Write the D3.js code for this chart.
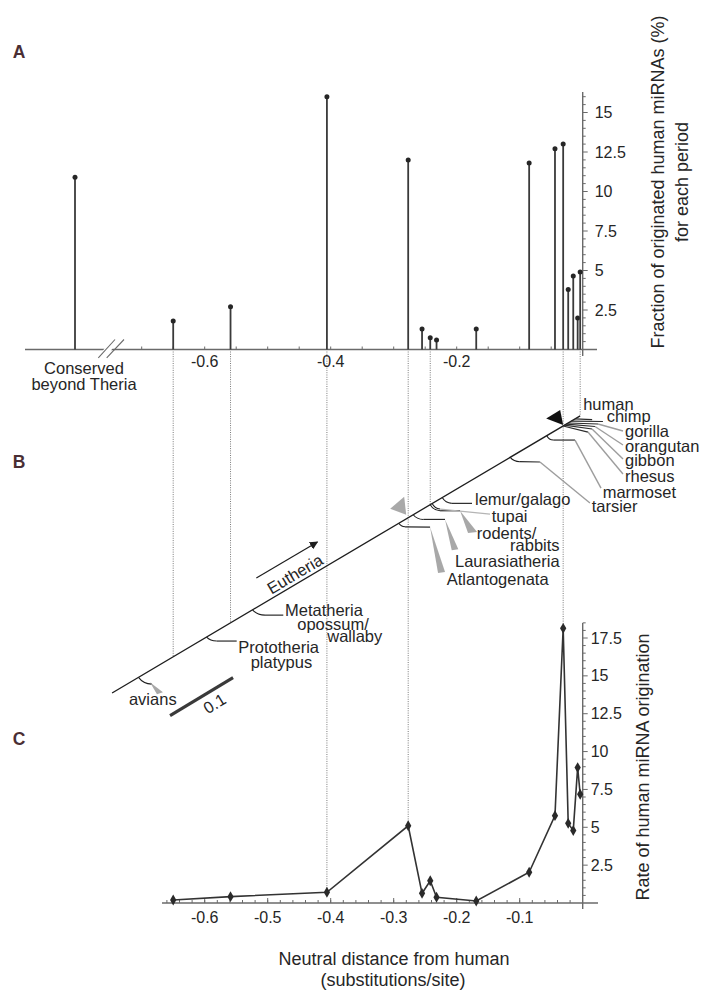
<!DOCTYPE html>
<html><head><meta charset="utf-8">
<script src="https://cdn.jsdelivr.net/npm/d3@7"></script>
<style>
html,body{margin:0;padding:0;background:#fff;}
svg{display:block;font-family:"Liberation Sans",Arial,Helvetica,sans-serif;}
</style></head><body>
<svg id="fig" width="702" height="992"></svg>
<script>
// Neutral distance from human (substitutions/site) of each origination period
const periodDistance = [-0.650, -0.559, -0.406, -0.277, -0.255, -0.242, -0.232, -0.169, -0.085, -0.044, -0.031, -0.023, -0.015, -0.008, -0.004];
// A: fraction (%) of human miRNAs originated in each period
const originFraction = [1.8, 2.7, 16.0, 12.0, 1.3, 0.75, 0.6, 1.3, 11.8, 12.7, 13.0, 3.8, 4.65, 2.0, 4.9];
const conservedLabel = ["Conserved", "beyond Theria"];
const conservedFraction = 10.9;
// C: rate of human miRNA origination in each period
const originRate = [0.2, 0.42, 0.71, 5.1, 0.64, 1.47, 0.38, 0.13, 2.03, 5.77, 18.14, 5.26, 4.78, 8.94, 7.18];

// tick values and labels
const fracTicks = [2.5, 5, 7.5, 10, 12.5, 15];
const fracTickLabels = ["2.5", "5", "7.5", "10", "12.5", "15"];
const rateTicks = [2.5, 5, 7.5, 10, 12.5, 15, 17.5];
const rateTickLabels = ["2.5", "5", "7.5", "10", "12.5", "15", "17.5"];
const distTicksA = [-0.6, -0.4, -0.2];
const distTickLabelsA = ["-0.6", "-0.4", "-0.2"];
const distTicksC = [-0.6, -0.5, -0.4, -0.3, -0.2, -0.1];
const distTickLabelsC = ["-0.6", "-0.5", "-0.4", "-0.3", "-0.2", "-0.1"];

// B: clades branching off the human lineage and their divergence distance
const cladeNames = ["avians", "Prototheria", "Metatheria", "Atlantogenata", "Laurasiatheria", "rodents/rabbits",
  "tupai", "lemur/galago", "tarsier", "marmoset", "rhesus", "gibbon", "orangutan", "gorilla", "chimp", "human"];
const cladeDistance = [-0.705, -0.597, -0.524, -0.292, -0.269, -0.242, -0.239, -0.223, -0.115, -0.057,
  -0.031, -0.029, -0.026, -0.023, -0.018, -0.012];
const cladeText = [["avians"], ["Prototheria", "platypus"], ["Metatheria", "opossum/", "wallaby"], ["Atlantogenata"],
  ["Laurasiatheria"], ["rodents/", "rabbits"], ["tupai"], ["lemur/galago"], ["tarsier"], ["marmoset"],
  ["rhesus"], ["gibbon"], ["orangutan"], ["gorilla"], ["chimp"], ["human"]];
// periods whose guide line runs down to the tree (else to panel C)
const guideToTree = [0, 1, 5, 14];
const guideToRate = [2, 3, 10];

// ---- drawing layout (pixel offsets relative to each clade's node on the stem) ----
const branchLayout = {
  "avians":        {stub:[13.4,6.8], wedge:[[11.4,4.8],[24.4,14.8],[18.4,16.8]], labels:[[-9.6,22.1]]},
  "Prototheria":   {stub:[10.1,4], dark:[30.1,4], labels:[[31.7,10.5],[44.1,25.5]]},
  "Metatheria":    {stub:[12.4,5.3], dark:[30.7,5.3], labels:[[32.4,0],[44.7,14.3],[74.7,26.3]]},
  "Atlantogenata": {stub:[6.3,3.5], dark:[31.3,3.8], wedge:[[31.3,3.8],[46.3,48.8],[39.3,49.8]], labels:[[48,55.6]]},
  "Laurasiatheria":{stub:[10.1,4.7], dark:[31.8,4.7], wedge:[[31.8,4.7],[45.1,34.4],[38.5,35.4]], labels:[[41.8,46.6]]},
  "rodents/rabbits":{stub:[9.8,6.1], dark:[29.8,6.1], wedge:[[29.8,6.1],[46.8,27.4],[37.8,28.4]], labels:[[46.5,28.9],[79.8,40.4]]},
  "tupai":         {stub:[7.9,5.5], light:[57.9,10.5], labels:[[59.6,12.7]]},
  "lemur/galago":  {stub:[9.5,5.8], dark:[29.8,5.8], labels:[[32.8,1.3]]},
  "tarsier":       {stub:[9.7,4.4], dark:[29.7,4.7], gray:[79.7,45.7], labels:[[81.4,48.9]]},
  "marmoset":      {stub:[6.5,4.4], dark:[28.2,4.4], gray:[54.2,52.4], labels:[[55.9,56.6]]},
  "rhesus":        {dark:[24.8,6.1], gray:[59.8,48.1], labels:[[61.8,50.3]]},
  "gibbon":        {dark:[27.6,3.8], gray:[58.6,33.8], labels:[[60.6,35.3]]},
  "orangutan":     {dark:[28.7,2.4], gray:[56.7,20.9], labels:[[58.7,22.1]]},
  "gorilla":       {dark:[29.8,1], gray:[54.8,8], labels:[[56.8,8.2]]},
  "chimp":         {dark:[31.6,0.4], labels:[[35.3,-4.5]]},
  "human":         {dark:[17,0.7], labels:[[8,-15]]}
};

const svg = d3.select("#fig");
const ink = "#262626", axisInk = "#6a6a6a", stemInk = "#3a3a3a";
const tickFont = 16, tipFont = 16.5, titleFont = 18;

// shared distance scale (all three panels are aligned on it)
const x = d3.scaleLinear().domain([-0.7, 0]).range([141.7, 582.7]);
const yA = d3.scaleLinear().domain([0, 15]).range([349.5, 112.5]);
const yC = d3.scaleLinear().domain([0, 17.5]).range([903, 638]);
const conservedX = d3.scalePoint().domain([conservedLabel.join(" ")]).range([50, 100]);
// position of the human lineage in the tree as a function of distance
const stemY = d3.scaleLinear().domain([-0.747, 0]).range([693, 414.4]);

function panelLetter(t, px, py) {
  svg.append("text").attr("x", px).attr("y", py).text(t)
    .attr("font-size", 17.5).attr("font-weight", "bold").attr("fill", "#4a2e34")
    .attr("text-anchor", "middle").attr("dy", "0.36em");
}
function txt(g, t, px, py, opt = {}) {
  return g.append("text").attr("x", px).attr("y", py).attr("dy", opt.dy || "0.35em")
    .attr("text-anchor", opt.anchor || "start").attr("font-size", opt.size || tipFont)
    .attr("fill", opt.fill || ink).text(t);
}

// ---------------- guide lines (drawn first, under everything) ----------------
const guides = svg.append("g").attr("stroke", "#7a7a7a").attr("stroke-width", 1).attr("stroke-dasharray", "1,1.3");
guideToTree.forEach(i => {
  const d = periodDistance[i];
  guides.append("line").attr("x1", x(d)).attr("x2", x(d)).attr("y1", yA(0) + 2).attr("y2", stemY(d));
});
guideToRate.forEach(i => {
  const d = periodDistance[i];
  guides.append("line").attr("x1", x(d)).attr("x2", x(d)).attr("y1", yA(0) + 2).attr("y2", yC(originRate[i]));
});

// ---------------- Panel A ----------------
const gA = svg.append("g");
const y0A = yA(0);
gA.append("line").attr("x1", 25).attr("x2", 597).attr("y1", y0A).attr("y2", y0A)
  .attr("stroke", axisInk).attr("stroke-width", 1.6);
// axis break
const brk = gA.append("g");
brk.append("polygon").attr("points", `${x(-0.7) - 42},${y0A + 6} ${x(-0.7) - 34},${y0A + 6} ${x(-0.7) - 26},${y0A - 6} ${x(-0.7) - 34},${y0A - 6}`)
  .attr("fill", "#fff");
[[-43.4, -26.7], [-35, -17.7]].forEach(([a, b]) => {
  brk.append("line").attr("x1", x(-0.7) + a).attr("y1", y0A + 8.4).attr("x2", x(-0.7) + b).attr("y2", y0A - 10)
    .attr("stroke", axisInk).attr("stroke-width", 1.1);
});
// x ticks
d3.range(-0.70, -0.01, 0.05).forEach(d => {
  gA.append("line").attr("x1", x(d)).attr("x2", x(d)).attr("y1", y0A).attr("y2", y0A - 3)
    .attr("stroke", axisInk).attr("stroke-width", 1);
});
distTicksA.forEach((d, i) => txt(gA, distTickLabelsA[i], x(d), y0A + 11.5, {anchor: "middle", size: tickFont}));
// right y axis
const axX = x(0);
gA.append("line").attr("x1", axX).attr("x2", axX).attr("y1", 92).attr("y2", 356)
  .attr("stroke", axisInk).attr("stroke-width", 1.4);
d3.range(0.5, 16.3, 0.5).forEach(v => {
  const major = fracTicks.includes(v);
  gA.append("line").attr("x1", axX).attr("x2", axX + (major ? 5 : 3)).attr("y1", yA(v)).attr("y2", yA(v))
    .attr("stroke", axisInk).attr("stroke-width", 1);
});
fracTicks.forEach((v, i) => txt(gA, fracTickLabels[i], axX + 12, yA(v), {size: tickFont}));
// stems
const stems = gA.append("g");
periodDistance.forEach((d, i) => {
  stems.append("line").attr("x1", x(d)).attr("x2", x(d)).attr("y1", y0A).attr("y2", yA(originFraction[i]))
    .attr("stroke", stemInk).attr("stroke-width", 1.8);
  stems.append("circle").attr("cx", x(d)).attr("cy", yA(originFraction[i])).attr("r", 2.5).attr("fill", "#262626");
});
const cx = conservedX(conservedLabel.join(" "));
stems.append("line").attr("x1", cx).attr("x2", cx).attr("y1", y0A).attr("y2", yA(conservedFraction))
  .attr("stroke", stemInk).attr("stroke-width", 1.8);
stems.append("circle").attr("cx", cx).attr("cy", yA(conservedFraction)).attr("r", 2.5).attr("fill", "#262626");
txt(gA, conservedLabel[0], cx + 9, y0A + 19, {anchor: "middle", size: tipFont});
txt(gA, conservedLabel[1], cx + 9, y0A + 35, {anchor: "middle", size: tipFont});
// y title
const tA = gA.append("text").attr("transform", `translate(658,182) rotate(-90)`)
  .attr("text-anchor", "middle").attr("font-size", titleFont).attr("fill", ink);
tA.append("tspan").attr("x", 0).attr("dy", "0.35em").text("Fraction of originated human miRNAs (%)");
tA.append("tspan").attr("x", 0).attr("dy", "1.3em").text("for each period");

// ---------------- Panel B: tree ----------------
const gB = svg.append("g");
// human lineage
gB.append("line").attr("x1", x(-0.747)).attr("y1", stemY(-0.747)).attr("x2", x(-0.004)).attr("y2", stemY(-0.004))
  .attr("stroke", "#1e1e1e").attr("stroke-width", 1.3);
cladeNames.forEach((name, i) => {
  const d = cladeDistance[i];
  const px = x(d), py = stemY(d);
  const L = branchLayout[name];
  let cur = [px, py];
  if (L.stub) {
    const e = [px + L.stub[0], py + L.stub[1]];
    gB.append("path").attr("d", `M${px},${py} Q${px + L.stub[0] * 0.35},${py + L.stub[1] * 0.95} ${e[0]},${e[1]}`)
      .attr("fill", "none").attr("stroke", "#1e1e1e").attr("stroke-width", 1.1);
    cur = e;
  }
  if (L.dark) {
    const e = [px + L.dark[0], py + L.dark[1]];
    gB.append("line").attr("x1", cur[0]).attr("y1", cur[1]).attr("x2", e[0]).attr("y2", e[1])
      .attr("stroke", "#2a2a2a").attr("stroke-width", 1.2);
    cur = e;
  }
  if (L.light) {
    const e = [px + L.light[0], py + L.light[1]];
    gB.append("line").attr("x1", cur[0]).attr("y1", cur[1]).attr("x2", e[0]).attr("y2", e[1])
      .attr("stroke", "#b5b5b5").attr("stroke-width", 1.3);
    cur = e;
  }
  if (L.gray) {
    const e = [px + L.gray[0], py + L.gray[1]];
    gB.append("line").attr("x1", cur[0]).attr("y1", cur[1]).attr("x2", e[0]).attr("y2", e[1])
      .attr("stroke", "#9d9d9d").attr("stroke-width", 1.4);
    cur = e;
  }
  if (L.wedge) {
    gB.append("polygon").attr("points", L.wedge.map(p => `${px + p[0]},${py + p[1]}`).join(" "))
      .attr("fill", "#a8a8a8");
  }
  cladeText[i].forEach((t, k) => {
    const o = L.labels[k];
    txt(gB, t, px + o[0], py + o[1]);
  });
});
// ancestor markers: Eutheria (gray) and the human-lineage period start (black)
const eu = [x(-0.277), stemY(-0.277)];
gB.append("polygon").attr("points", `${eu[0] - 18},${eu[1] - 9} ${eu[0] - 4},${eu[1] - 21} ${eu[0] - 2},${eu[1] - 3}`)
  .attr("fill", "#a9a9a9");
const hm = [x(-0.031), stemY(-0.031)];
gB.append("polygon").attr("points", `${hm[0] - 17},${hm[1] - 7.5} ${hm[0] - 3},${hm[1] - 16} ${hm[0]},${hm[1] - 1}`)
  .attr("fill", "#111");
// Eutheria arrow
const arrOff = [2.5, -31];
const a0 = [x(-0.522) + arrOff[0], stemY(-0.522) + arrOff[1]];
const a1 = [x(-0.425) + arrOff[0], stemY(-0.425) + arrOff[1]];
svg.append("defs").append("marker").attr("id", "ah").attr("viewBox", "0 0 10 10").attr("refX", 9).attr("refY", 5)
  .attr("markerWidth", 7).attr("markerHeight", 7).attr("orient", "auto")
  .append("path").attr("d", "M0,0 L10,5 L0,10 z").attr("fill", "#1e1e1e");
gB.append("line").attr("x1", a0[0]).attr("y1", a0[1]).attr("x2", a1[0]).attr("y2", a1[1])
  .attr("stroke", "#1e1e1e").attr("stroke-width", 1.2).attr("marker-end", "url(#ah)");
const ang = Math.atan2(a1[1] - a0[1], a1[0] - a0[0]) * 180 / Math.PI;
gB.append("text").attr("transform", `translate(${(a0[0] + a1[0]) / 2 + 8},${(a0[1] + a1[1]) / 2 + 14}) rotate(${ang})`)
  .attr("text-anchor", "middle").attr("dy", "0.35em").attr("font-size", tipFont).attr("fill", ink).text("Eutheria");
// scale bar 0.1 substitutions/site
const sb0 = [x(-0.655), stemY(-0.655) + 57];
const sbLen = x(-0.555) - x(-0.655);
const sb1 = [sb0[0] + sbLen, sb0[1] - sbLen * 0.606];
gB.append("line").attr("x1", sb0[0]).attr("y1", sb0[1]).attr("x2", sb1[0]).attr("y2", sb1[1])
  .attr("stroke", "#3a3a3a").attr("stroke-width", 3.2);
gB.append("text").attr("transform", `translate(${(sb0[0] + sb1[0]) / 2 + 13},${(sb0[1] + sb1[1]) / 2 + 7}) rotate(${Math.atan(-0.606) * 180 / Math.PI})`)
  .attr("text-anchor", "middle").attr("dy", "0.35em").attr("font-size", tipFont).attr("fill", ink).text("0.1");

// ---------------- Panel C ----------------
const gC = svg.append("g");
const y0C = yC(0);
gC.append("line").attr("x1", 162).attr("x2", 598).attr("y1", y0C).attr("y2", y0C)
  .attr("stroke", axisInk).attr("stroke-width", 1.6);
d3.range(-0.66, -0.005, 0.02).forEach(d => {
  gC.append("line").attr("x1", x(d)).attr("x2", x(d)).attr("y1", y0C).attr("y2", y0C - 3)
    .attr("stroke", axisInk).attr("stroke-width", 1);
});
distTicksC.forEach((d, i) => {
  gC.append("line").attr("x1", x(d)).attr("x2", x(d)).attr("y1", y0C).attr("y2", y0C - 5)
    .attr("stroke", axisInk).attr("stroke-width", 1);
  txt(gC, distTickLabelsC[i], x(d), y0C + 14, {anchor: "middle", size: tickFont});
});
gC.append("line").attr("x1", axX).attr("x2", axX).attr("y1", 623).attr("y2", 909)
  .attr("stroke", axisInk).attr("stroke-width", 1.4);
d3.range(0.5, 18.6, 0.5).forEach(v => {
  const major = rateTicks.includes(v);
  gC.append("line").attr("x1", axX).attr("x2", axX + (major ? 5 : 3)).attr("y1", yC(v)).attr("y2", yC(v))
    .attr("stroke", axisInk).attr("stroke-width", 1);
});
rateTicks.forEach((v, i) => txt(gC, rateTickLabels[i], axX + 8, yC(v), {size: tickFont}));
const pts = periodDistance.map((d, i) => [x(d), yC(originRate[i])]);
gC.append("path").attr("d", d3.line()(pts)).attr("fill", "none").attr("stroke", "#333").attr("stroke-width", 1.6);
gC.selectAll("path.mk").data(pts).join("path").attr("class", "mk")
  .attr("transform", p => `translate(${p[0]},${p[1]})`)
  .attr("d", d3.symbol(d3.symbolDiamond, 34)).attr("fill", "#2a2a2a");
gC.append("text").attr("transform", `translate(643,767) rotate(-90)`).attr("text-anchor", "middle")
  .attr("dy", "0.35em").attr("font-size", titleFont).attr("fill", ink).text("Rate of human miRNA origination");
txt(gC, "Neutral distance from human", 394, 959, {anchor: "middle", size: titleFont});
txt(gC, "(substitutions/site)", 393, 980, {anchor: "middle", size: titleFont});

panelLetter("A", 19, 52);
panelLetter("B", 19, 462);
panelLetter("C", 19, 739);
</script>
</body></html>
